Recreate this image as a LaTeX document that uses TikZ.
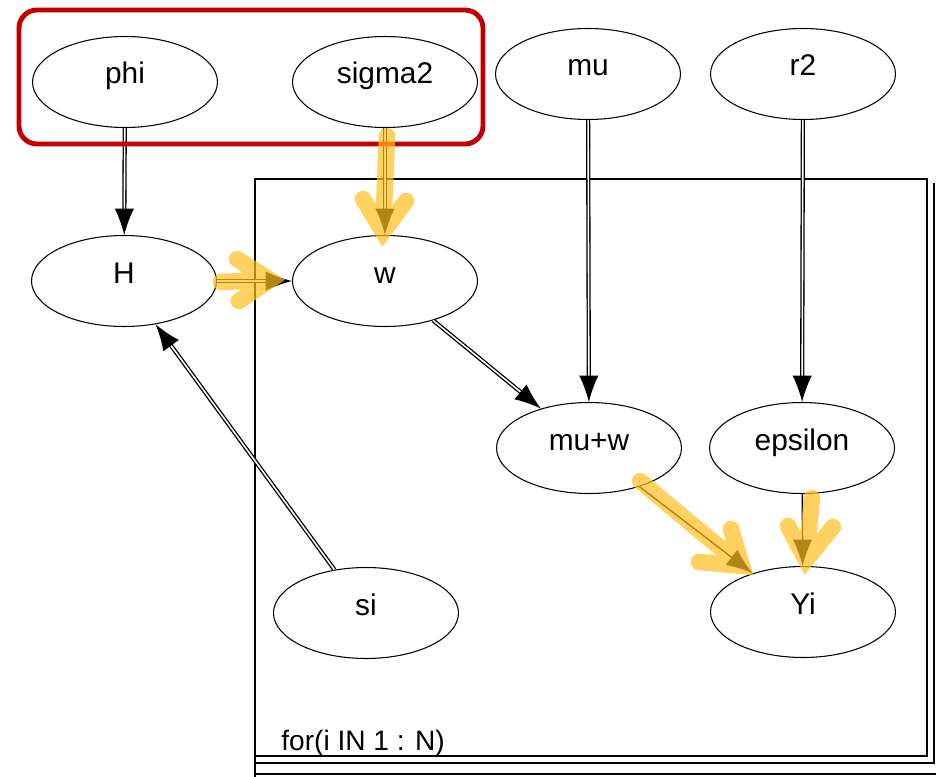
\documentclass[tikz,border=0pt]{standalone}
\usepackage{fontspec}
\setmainfont{Liberation Sans}
\usepackage{tikz}
\usetikzlibrary{shapes.geometric,arrows.meta}
\definecolor{bugsred}{RGB}{192,0,0}
\definecolor{bugshl}{RGB}{255,190,30}
\tikzstyle{bugsnode}=[ellipse, draw, line width=0.6pt, fill=white, inner sep=0pt, minimum width=3.7cm, minimum height=1.82cm, text height=0.5cm, text depth=0.42cm, font=\fontsize{17}{20}\selectfont]
\tikzstyle{logical}=[double, line width=0.75pt, double distance=0.9pt, -{Latex[length=15pt,width=11pt]}]
\tikzstyle{stochastic}=[line width=0.8pt, -{Latex[length=15pt,width=11pt]}]
\tikzstyle{plate}=[draw, line width=1.1pt]
\tikzstyle{highlight}=[draw=bugshl, opacity=0.7, line width=0.33cm, line cap=round, line join=miter]
\newcommand{\bugsnode}[3]{
	\node[bugsnode] (#1) at (#2) {#3};}

\begin{document}
\begin{tikzpicture}[x=0.02cm, y=-0.02cm]
\useasboundingbox (0,0) rectangle (936,777);
% plate
\draw[plate] (255,179) rectangle (927,756);
\draw[plate] (255,756) -- (255,777);
\draw[plate] (255,763) -- (934,763) -- (934,183);
\draw[plate] (255,774) -- (936,774);
\node[anchor=base west, inner sep=0pt, font=\fontsize{16}{19}\selectfont] (platelabel) at (281,750) {for(i IN 1 : N)};
% nodes
\bugsnode{phi}{125,82}{phi}
\bugsnode{sigma2}{385,82}{sigma2}
\bugsnode{mu}{588,74}{mu}
\bugsnode{r2}{803,74}{r2}
\bugsnode{H}{124,281}{H}
\bugsnode{w}{385,281}{w}
\bugsnode{muw}{589,448}{mu+w}
\bugsnode{epsilon}{802,448}{epsilon}
\bugsnode{si}{366,613}{si}
\bugsnode{Yi}{803,612}{Yi}
% links
\draw[logical] (phi) -- (H);
\draw[logical] (sigma2) -- (w);
\draw[logical] (H) -- (w);
\draw[logical] (mu) -- (muw);
\draw[logical] (r2) -- (epsilon);
\draw[logical] (w) -- (muw);
\draw[logical] (si) -- (H);
\draw[stochastic] (muw) -- (Yi);
\draw[stochastic] (epsilon) -- (Yi);
% selection
\draw[bugsred, line width=2.8pt, rounded corners=0.36cm] (19,10) rectangle (483,144);
% highlighted links
\draw[highlight] (387,136) -- (383,232) (363,199) -- (383,232) -- (406,201);
\draw[highlight] (221,282) -- (270,280) (237,259) -- (270,280) -- (239,301);
\draw[highlight] (640,481) -- (742,566) (731,529) -- (742,566) -- (699,562);
\draw[highlight] (812,498) -- (806,560) (788,526) -- (806,560) -- (833,527);
\end{tikzpicture}
\end{document}
